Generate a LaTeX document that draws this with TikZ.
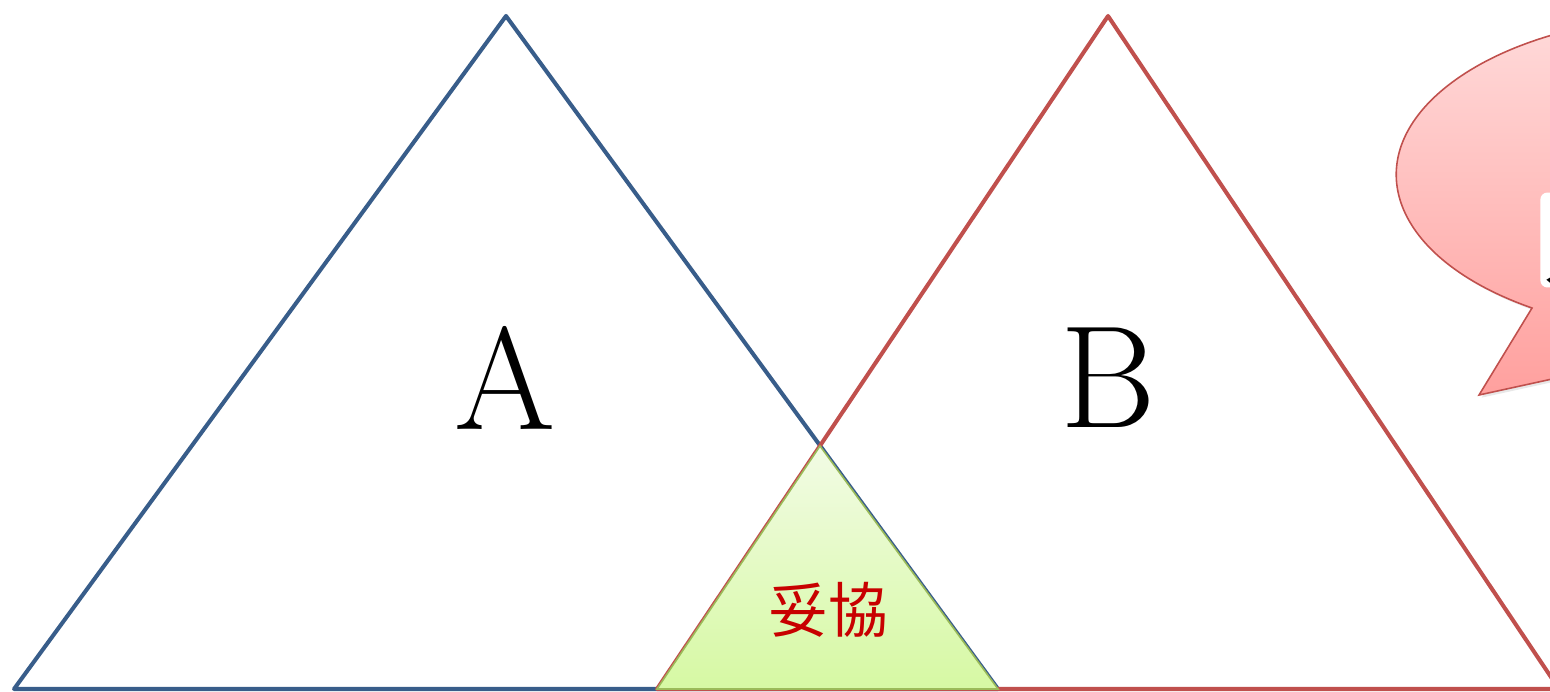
\documentclass[tikz,border=0pt]{standalone}
\usepackage{fontspec}
\newfontfamily\cjk{Noto Sans CJK TC}
\usetikzlibrary{shadows}
\definecolor{blueA}{RGB}{56,93,138}
\definecolor{redB}{RGB}{192,80,77}
\definecolor{greenC}{RGB}{155,187,89}
\definecolor{greenTop}{RGB}{242,251,229}
\definecolor{greenBot}{RGB}{214,249,163}
\definecolor{pinkTop}{RGB}{255,222,222}
\definecolor{pinkBot}{RGB}{255,160,158}
\definecolor{wordRed}{RGB}{200,0,0}

\begin{document}
\begin{tikzpicture}[
    x=0.02cm, y=-0.02cm,
    sideA/.style={draw=blueA, line width=2.3pt, line join=round},
    sideB/.style={draw=redB, line width=2.3pt, line join=round},
    mid/.style={draw=greenC, line width=0.9pt, top color=greenTop, bottom color=greenBot},
    bubble/.style={draw=redB, line width=0.9pt, top color=pinkTop, bottom color=pinkBot,
                   drop shadow={opacity=0.18, shadow xshift=1.5pt, shadow yshift=-1.5pt}},
    big/.style={font=\fontsize{83}{90}\selectfont},
  ]
    \useasboundingbox (0,0) rectangle (1550,691);
    \clip (0,0) rectangle (1550,691);

    % corners
    \coordinate (topA)   at (506,16);
    \coordinate (leftA)  at (14,689);
    \coordinate (rightA) at (998,689);
    \coordinate (topB)   at (1108,16);
    \coordinate (leftB)  at (657,689);
    \coordinate (rightB) at (1559,689);
    \coordinate (meet)   at (820,446);

    % the two sides
    \draw[sideA] (leftA) -- (topA) -- (rightA) -- cycle;
    \draw[sideB] (leftB) -- (topB) -- (rightB) -- cycle;

    % common ground
    \path[mid] (leftB) -- (meet) -- (rightA) -- cycle;

    % speech bubble, cut by the page edge
    \path[bubble] (1532,308)
        arc[start angle=123.6, end angle=420, x radius=304, y radius=160]
        -- (1479,395) -- cycle;
    \node[fill=white, rounded corners=4pt, inner sep=1pt, anchor=west,
          font=\cjk\fontsize{57}{60}\selectfont] (cut) at (1540,240) {人};

    % labels
    \node[big] (labelA) at (505,378) {A};
    \node[big] (labelB) at (1108,378) {B};
    \node[text=wordRed, font=\cjk\fontsize{34}{38}\selectfont] (deal) at (828,610) {妥協};
  \end{tikzpicture}
\end{document}
